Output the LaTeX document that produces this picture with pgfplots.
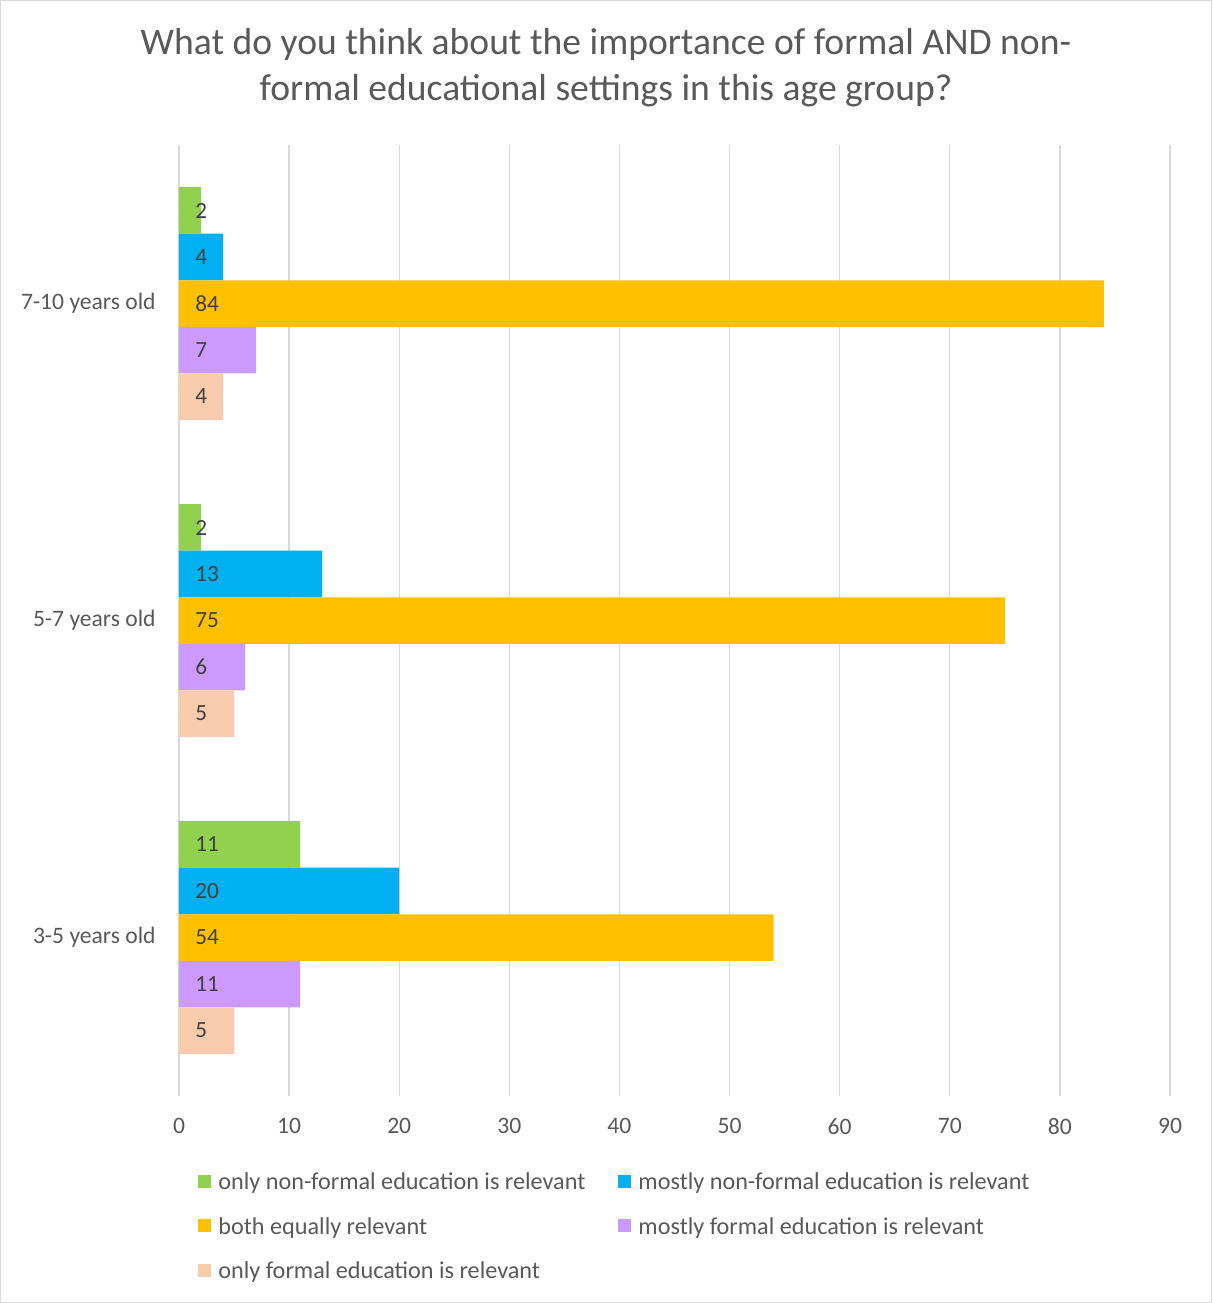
\documentclass[border=0pt]{standalone}
\usepackage{pgfplots}
\pgfplotsset{compat=1.18}
\usepackage{fontspec}
\setmainfont{Carlito}
\definecolor{cgreen}{HTML}{92D050}
\definecolor{cblue}{HTML}{00B0F0}
\definecolor{corange}{HTML}{FFC000}
\definecolor{cpurple}{HTML}{CC99FF}
\definecolor{cpeach}{HTML}{F8CBAD}
\definecolor{txt}{HTML}{595959}
\definecolor{lbl}{HTML}{404040}
\definecolor{gridc}{HTML}{D9D9D9}
\begin{document}
\begin{tikzpicture}
\useasboundingbox (-89.5pt,-103.5pt) rectangle (516.5pt,548pt);
\draw[color=gridc, line width=0.6pt] (-89.2pt,-103.2pt) rectangle (516.2pt,547.7pt);
\node[text=txt, align=center, font=\fontsize{18.8}{23}\selectfont] at (213.5pt,514pt)
  {What do you think about the importance of formal AND non-\\formal educational settings in this age group?};
\begin{axis}[
  at={(0pt,0pt)}, anchor=south west,
  scale only axis, width=495.5pt, height=475.5pt,
  xmin=0, xmax=90, ymin=-0.5, ymax=2.5,
  xtick={0,10,...,90},
  ytick={0,1,2},
  yticklabels={3-5 years old,5-7 years old,7-10 years old},
  axis line style={draw=none},
  xtick pos=bottom, ytick pos=left,
  xmajorgrids, grid style={gridc, line width=0.7pt},
  major tick length=0pt,
  tick label style={text=txt, font=\fontsize{11.8}{14}\selectfont},
  /pgf/number format/assume math mode=true,
  xticklabel style={anchor=north, inner sep=0pt},
  xticklabel shift=11pt,
  yticklabel style={anchor=east, inner sep=0pt},
  yticklabel shift=11.5pt,
  xbar, bar width=0.1467,
  visualization depends on={x \as \rawx},
  nodes near coords,
  every node near coord/.append style={anchor=west, inner sep=0pt, text=lbl,
     font=\fontsize{11.6}{14}\selectfont, xshift=8pt,
     shift={(axis direction cs:-\rawx,0)}},
  legend columns=2,
  legend cell align=left,
  legend style={at={(0.0192,-0.0805)}, anchor=north west, draw=none, fill=none,
     inner sep=0pt, text=txt, font=\fontsize{12.1}{14}\selectfont,
     nodes={inner sep=0pt, text depth=0pt},
     /tikz/every even column/.append style={column sep=16.5pt},
     /tikz/every odd column/.append style={column sep=3.5pt},
     row sep=13.8pt},
  legend image code/.code={\fill[#1] (0pt,-3.25pt) rectangle (6.5pt,3.25pt);},
]
\addplot[fill=cgreen, draw=none, bar shift=0.2934] coordinates {(11,0) (2,1) (2,2)};
\addplot[fill=cblue, draw=none, bar shift=0.1467] coordinates {(20,0) (13,1) (4,2)};
\addplot[fill=corange, draw=none, bar shift=0] coordinates {(54,0) (75,1) (84,2)};
\addplot[fill=cpurple, draw=none, bar shift=-0.1467] coordinates {(11,0) (6,1) (7,2)};
\addplot[fill=cpeach, draw=none, bar shift=-0.2934] coordinates {(5,0) (5,1) (4,2)};
\legend{only non-formal education is relevant,mostly non-formal education is relevant,both equally relevant,mostly formal education is relevant,only formal education is relevant}
\end{axis}
\end{tikzpicture}
\end{document}
